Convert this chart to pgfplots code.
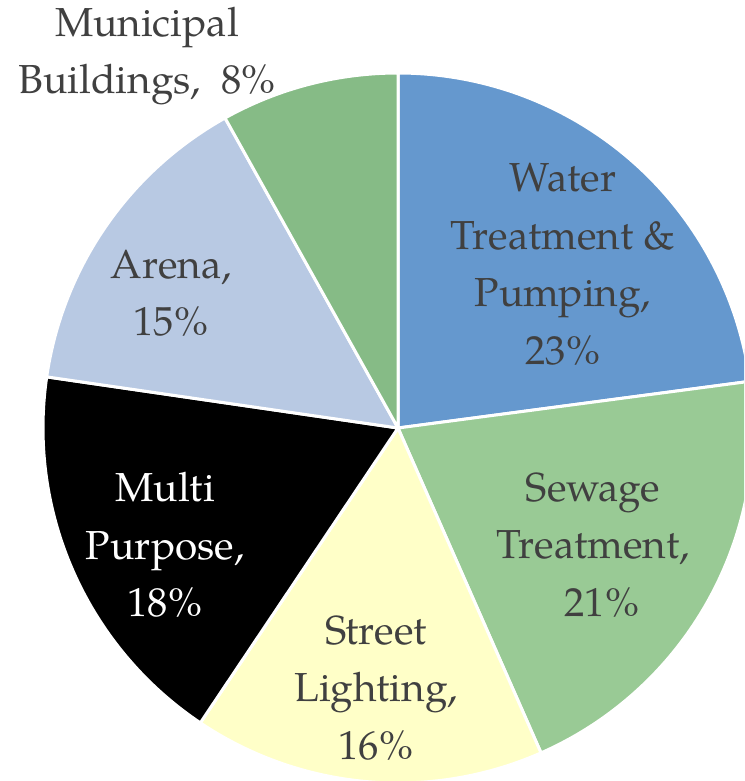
\documentclass[border=0pt]{standalone}
\usepackage{fontspec}
\setmainfont{texgyrepagella}[Extension=.otf, UprightFont=*-regular]
\usepackage{pgfplots}
\pgfplotsset{compat=1.18}
\definecolor{cWater}{HTML}{6598CE}
\definecolor{cSewage}{HTML}{99CA95}
\definecolor{cStreet}{HTML}{FFFFC8}
\definecolor{cMulti}{HTML}{000000}
\definecolor{cArena}{HTML}{B8C9E3}
\definecolor{cMuni}{HTML}{86BB86}
\definecolor{lbl}{HTML}{404040}
% slice: start angle, percentage, colour
\newcommand{\slice}[3]{%
  \pgfmathsetmacro\endang{#1-3.6*#2}%
  \edef\temp{\noexpand\addplot[fill=#3, draw=white, line width=3pt, line join=round, domain=\endang:#1, samples=80, variable=\noexpand\t]
    ({398+355*cos(\noexpand\t)},{428-355*sin(\noexpand\t)}) -- (axis cs:398,428) -- cycle;}%
  \temp
}
\begin{document}
\begin{tikzpicture}
\begin{axis}[
  width=744pt, height=781pt, scale only axis,
  xmin=0, xmax=744, ymin=0, ymax=781, y dir=reverse,
  hide axis,
]
% percentages (clockwise from top)
\slice{90}{22.9}{cWater}
\slice{7.56}{20.5}{cSewage}
\slice{-66.24}{16.0}{cStreet}
\slice{-123.84}{17.9}{cMulti}
\slice{-188.28}{14.6}{cArena}
\slice{-240.84}{8.1}{cMuni}
\tikzset{lab/.style={align=center, text=lbl, font=\fontsize{40.5}{57.5}\selectfont, inner sep=0pt}}
\node[lab] at (axis cs:563,264) {Water\\Treatment \&\\Pumping,\\23\%};
\node[lab] at (axis cs:593,545) {Sewage\\Treatment,\\\hspace*{18pt}21\%};
\node[lab] at (axis cs:376,688) {Street\\Lighting,\\16\%};
\node[lab, text=white] at (axis cs:165,545) {Multi\\Purpose,\\18\%};
\node[lab] at (axis cs:171,293) {Arena,\\15\%};
\node[lab] at (axis cs:147,56) {Municipal\\Buildings,\ \ 8\%};
\end{axis}
\pgfresetboundingbox
\useasboundingbox (current axis.south west) rectangle (current axis.north east);
\end{tikzpicture}
\end{document}
